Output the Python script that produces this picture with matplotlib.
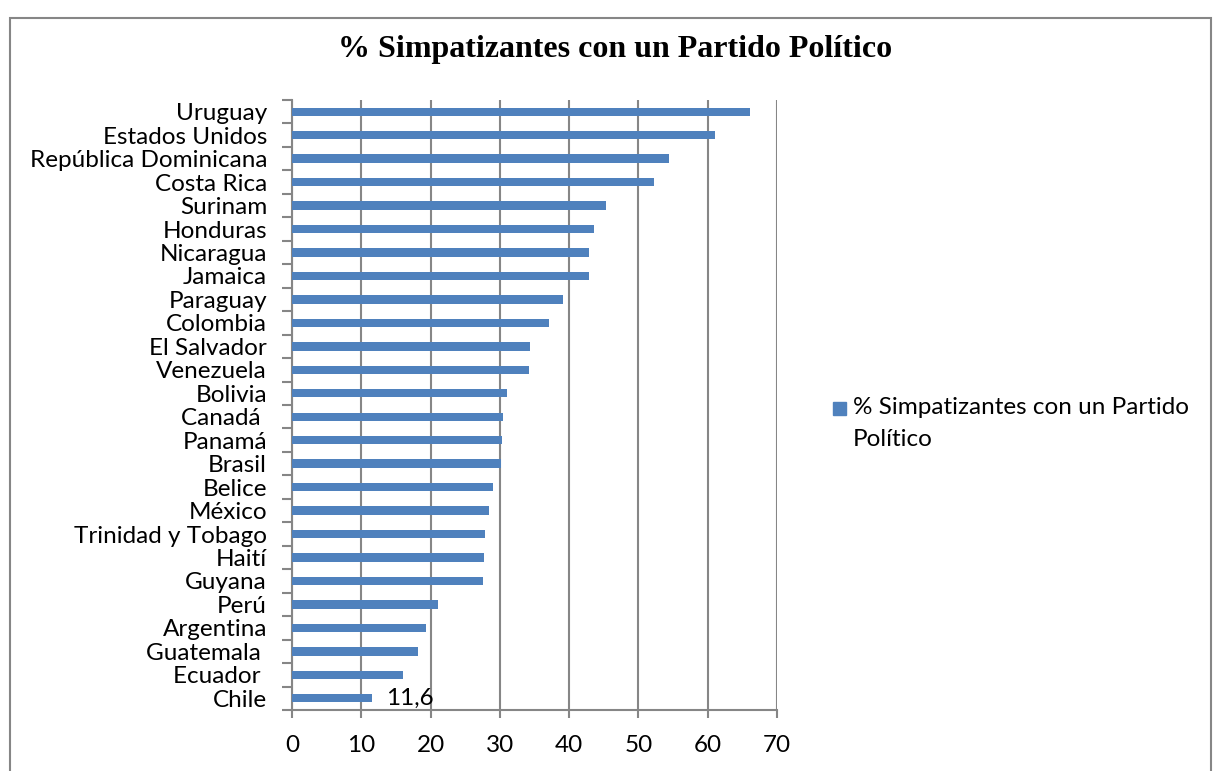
import numpy as np
import matplotlib.pyplot as plt
from matplotlib.patches import Rectangle

# data (top to bottom, as shown)
countries = ["Uruguay", "Estados Unidos", "República Dominicana", "Costa Rica",
             "Surinam", "Honduras", "Nicaragua", "Jamaica", "Paraguay",
             "Colombia", "El Salvador", "Venezuela", "Bolivia", "Canadá ",
             "Panamá", "Brasil", "Belice", "México", "Trinidad y Tobago",
             "Haití", "Guyana", "Perú", "Argentina", "Guatemala ",
             "Ecuador ", "Chile"]
values = [66.1, 61.0, 54.4, 52.2, 45.3, 43.6, 42.9, 42.8, 39.1,
          37.1, 34.4, 34.2, 31.0, 30.4, 30.3, 30.1, 29.0, 28.5, 27.8,
          27.7, 27.6, 21.1, 19.4, 18.2, 16.0, 11.6]
x_ticks = [0, 10, 20, 30, 40, 50, 60, 70]
series_name = "% Simpatizantes con un Partido\nPolítico"
title = "% Simpatizantes con un Partido Político"

BAR = "#4F81BD"
GRID = "#868686"
W, H = 1217, 771
FS = 17.5

plt.rcParams['font.family'] = ['Lato', 'DejaVu Sans']

fig = plt.figure(figsize=(W / 100, H / 100), dpi=100)
ax = fig.add_axes([292 / W, 1 - 710 / H, (777 - 292) / W, (710 - 100) / H])

n = len(countries)
ypos = np.arange(n)[::-1]
ax.barh(ypos, values, height=0.36, color=BAR, zorder=3)

ax.set_xlim(0, 70)
ax.set_ylim(-0.5, n - 0.5)
ax.set_xticks(x_ticks)
ax.set_xticklabels([str(t) for t in x_ticks], fontsize=FS)
ax.set_yticks(ypos)
ax.set_yticklabels(countries, fontsize=FS)
ax.tick_params(axis='y', length=0, pad=18)
ax.set_yticks(np.arange(n + 1) - 0.5, minor=True)
ax.tick_params(axis='y', which='minor', length=7, width=1.5, color=GRID)
ax.tick_params(axis='x', length=6, width=1.5, color=GRID, pad=12)
ax.xaxis.grid(True, color=GRID, linewidth=1.5, zorder=0)
for s in ['top', 'right']:
    ax.spines[s].set_visible(False)
for s in ['left', 'bottom']:
    ax.spines[s].set_color(GRID)
    ax.spines[s].set_linewidth(1.5)

# data label on Chile
ax.text(13.6, ypos[-1], "11,6", fontsize=FS, ha='left', va='center')

# title
fig.text(615 / W, 1 - 50 / H, title, fontsize=23, fontweight='bold',
         family='Liberation Serif', ha='center', va='center')

# legend
fig.patches.append(Rectangle((833 / W, 1 - 415 / H), 13 / W, 13 / H,
                             transform=fig.transFigure, color=BAR))
fig.text(853 / W, 1 - 397 / H, series_name, fontsize=FS, ha='left',
         va='top', linespacing=1.65)

# chart border
fig.patches.append(Rectangle((10 / W, -0.05), (1211 - 10) / W, 1.05 - 18 / H,
                             transform=fig.transFigure, fill=False,
                             edgecolor=GRID, linewidth=1.5))

fig.savefig("out.png", dpi=100)
